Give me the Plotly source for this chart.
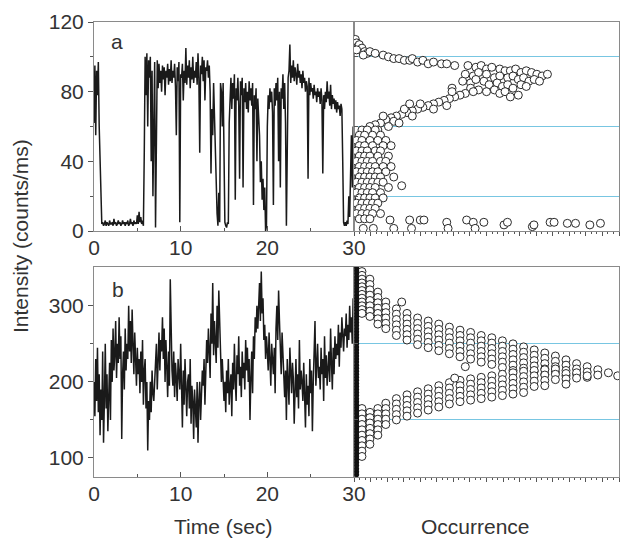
import plotly.graph_objects as go

# time traces, one value every 0.1 s from 0 to 29.9 s
trace_a = [62, 95, 55, 92, 78, 97, 60, 35, 8, 4,
           5, 3, 4, 6, 3, 5, 4, 3, 6, 4,
           4, 5, 3, 7, 4, 5, 3, 4, 6, 4,
           5, 3, 4, 6, 4, 5, 3, 5, 4, 6,
           3, 4, 7, 4, 5, 3, 6, 4, 5, 4,
           9, 4, 11, 5, 8, 4, 6, 3, 45, 100,
           78, 102, 60, 98, 88, 100, 40, 92, 20, 85,
           97, 2, 45, 98, 82, 96, 85, 92, 80, 95,
           87, 94, 78, 92, 88, 96, 84, 93, 86, 98,
           85, 92, 88, 96, 83, 55, 94, 86, 97, 5,
           90, 88, 96, 75, 92, 85, 105, 84, 95, 88,
           98, 82, 94, 87, 100, 85, 92, 88, 97, 84,
           102, 88, 45, 95, 90, 100, 86, 98, 75, 94,
           92, 98, 88, 95, 80, 33, 70, 55, 85, 62,
           40, 25, 10, 3, 22, 5, 85, 80, 60, 85,
           45, 5, 3, 2, 5, 4, 62, 80, 88, 70,
           85, 76, 90, 18, 82, 75, 88, 72, 30, 86,
           78, 88, 25, 82, 74, 85, 70, 80, 68, 86,
           75, 82, 72, 85, 15, 78, 70, 82, 40, 76,
           68, 55, 28, 40, 18, 30, 12, 25, 0, 3,
           60, 78, 70, 82, 74, 80, 68, 15, 82, 72,
           85, 75, 88, 40, 80, 25, 82, 76, 90, 70,
           85, 62, 3, 40, 88, 92, 107, 85, 95, 88,
           98, 86, 94, 90, 84, 96, 88, 92, 85, 90,
           82, 92, 85, 88, 80, 86, 83, 30, 88, 78,
           85, 80, 82, 76, 84, 78, 80, 74, 82, 77,
           80, 73, 82, 75, 33, 78, 70, 80, 74, 86,
           76, 80, 72, 84, 70, 78, 73, 76, 70, 75,
           68, 74, 70, 72, 66, 73, 70, 40, 5, 3,
           5, 3, 6, 4, 20, 8, 30, 55, 25, 60]

trace_b = [200, 155, 230, 175, 245, 160, 210, 130, 190, 150,
           240, 120, 175, 250, 165, 210, 135, 180, 225, 150,
           255, 200, 270, 215, 235, 280, 205, 250, 225, 285,
           230, 260, 125, 210, 240, 190, 270, 215, 250, 230,
           300, 240, 280, 225, 295, 250, 210, 265, 230, 195,
           245, 210, 230, 185, 240, 200, 255, 170, 215, 230,
           165, 200, 110, 175, 150, 200, 160, 215, 185, 175,
           200, 225, 250, 190, 230, 265, 215, 255, 240, 285,
           230, 270, 200, 255, 220, 180, 240, 195, 335, 260,
           215, 195, 240, 180, 225, 205, 175, 230, 200, 190,
           250, 185, 140, 215, 170, 230, 180, 155, 200, 210,
           165, 230, 145, 195, 175, 125, 190, 160, 140, 200,
           120, 175, 200, 150, 185, 215, 195, 230, 170, 210,
           255, 225, 270, 240, 205, 290, 250, 330, 235, 280,
           260, 225, 300, 245, 320, 270, 250, 200, 230, 185,
           175, 200, 160, 215, 185, 230, 170, 195, 210, 155,
           225, 190, 250, 200, 175, 235, 210, 260, 195, 220,
           180, 240, 205, 225, 190, 255, 215, 245, 200, 230,
           150, 205, 240, 185, 260, 230, 285, 265, 300, 270,
           295, 330, 280, 345, 290, 310, 255, 275, 230, 260,
           240, 215, 265, 230, 195, 250, 225, 210, 245, 185,
           270, 300, 255, 320, 280, 245, 210, 265, 230, 200,
           180, 215, 150, 230, 195, 170, 245, 210, 185, 225,
           205, 145, 195, 230, 180, 210, 165, 255, 190, 215,
           200, 175, 225, 185, 140, 210, 170, 195, 155, 230,
           185, 215, 135, 200, 240, 280, 195, 225, 250, 205,
           220, 190, 245, 210, 230, 175, 260, 205, 235, 195,
           215, 240, 200, 270, 225, 190, 245, 210, 260, 230,
           250, 235, 275, 220, 265, 245, 285, 255, 240, 270,
           260, 290, 245, 275, 255, 300, 265, 285, 250, 310]

# occurrence histogram a: (occurrence, intensity) pairs
occ_a = [0.5, 1, 1.5, 2, 2.5, 3, 1, 4, 5, 3.5,
         6, 8, 11, 13, 15, 17, 19, 21, 22, 24, 26, 28, 30, 33, 35, 38,
         43, 46, 48, 50, 52, 55, 57, 59, 61, 63, 65, 67, 69, 71, 73,
         42, 45, 47, 50, 53, 55, 58, 60, 62, 64, 66, 68, 70,
         41, 44, 46, 49, 51, 54, 56, 58, 60, 63, 65,
         44, 47, 50, 53, 55, 57, 59, 62,
         45, 42, 40, 38, 36, 34, 32, 30, 28, 26, 24, 22, 20, 18, 16, 14, 12, 10, 8, 6,
         25, 19, 15, 22, 30, 35, 11, 17, 13, 9, 21, 37, 37,
         3, 5, 8, 2, 4, 7, 10, 1, 3, 6, 9, 12, 2, 4, 7, 11, 14, 1, 3, 5, 8, 10,
         2, 4, 6, 9, 13, 1, 3, 5, 7, 10, 12, 2, 4, 6, 8, 11, 14, 1, 3, 5, 7, 9, 12,
         2, 4, 6, 8, 10, 15, 1, 3, 5, 7, 9, 11, 2, 4, 6, 8, 13, 18, 1, 3, 5, 7, 10,
         2, 4, 6, 8, 11, 1, 3, 5, 7, 9, 2, 4, 6, 8, 1, 3, 5, 7, 10, 2, 4, 6,
         3.5, 7.3, 13.6, 15, 21, 21.7, 25, 26.4, 35, 35.5, 42.5, 45, 45.7, 49,
         56.6, 57.9, 67.3, 67.9, 74, 75.5, 80.5, 83.6, 89, 93]
int_a = [110, 108, 106, 107, 104, 105, 104, 103, 102, 101,
         103, 102, 101, 100, 99, 99, 98, 98, 99, 97, 98, 96, 97, 96, 96, 95,
         95, 94, 95, 93, 94, 93, 92, 92, 93, 91, 92, 91, 90, 89, 90,
         90, 89, 91, 90, 88, 89, 88, 89, 87, 88, 86, 87, 86,
         86, 85, 87, 86, 84, 85, 83, 84, 82, 84, 83,
         82, 81, 80, 81, 79, 80, 77, 78,
         80, 79, 78, 77, 76, 75, 74, 73, 72, 71, 70, 69, 68, 67, 66, 65, 64, 62, 61, 60,
         73, 70, 63, 66, 70, 72, 66, 62, 60, 58, 73, 82, 80,
         58, 58, 58, 55, 55, 55, 55, 52, 52, 52, 52, 52, 49, 49, 49, 49, 49, 46, 46, 46, 46, 46,
         43, 43, 43, 43, 43, 40, 40, 40, 40, 40, 40, 37, 37, 37, 37, 37, 37, 34, 34, 34, 34, 34, 34,
         31, 31, 31, 31, 31, 31, 28, 28, 28, 28, 28, 28, 25, 25, 25, 25, 25, 26, 22, 22, 22, 22, 22,
         19, 19, 19, 19, 19, 16, 16, 16, 16, 16, 13, 13, 13, 13, 10, 10, 10, 10, 10, 7, 7, 7,
         1.5, 1.5, 6.3, 1.5, 6.3, 1.5, 6.3, 6.3, 5, 1.5, 6.3, 5, 1.5, 5,
         3.5, 5, 2.5, 3.5, 5, 5, 4.4, 4.4, 3.5, 4.4]

# histogram b: bins with zero occurrence, then the two arms read column by column
b_zero_int = [78, 82, 86, 90, 94, 98, 102, 106, 110, 114, 118, 122, 126, 130, 134, 138,
              142, 146, 150, 154, 158, 162, 166, 170, 174, 178, 182, 186, 190, 194, 198,
              202, 206, 210, 214, 218, 222, 226, 230, 234, 238, 242, 246, 250, 254, 258,
              262, 266, 270, 274, 278, 282, 286, 290, 294, 298, 302, 306, 310, 314, 318,
              322, 326, 330, 334, 338, 342, 346, 350]
b_upper_occ = [3, 6, 9, 12, 16, 20, 24, 28, 32, 36, 40, 44, 48, 52, 56, 60, 64, 68, 72,
               76, 80, 84, 88, 92, 96, 99.5, 18, 42]
b_upper_int = [[345, 340, 335, 330, 325, 320, 315, 310, 305, 300, 295, 290],
               [335, 328, 321, 314, 307, 300, 293, 286],
               [318, 311, 304, 297, 290, 283, 276],
               [305, 298, 291, 284, 277, 270],
               [296, 289, 282, 275, 268, 261],
               [290, 283, 276, 269, 262, 255],
               [284, 277, 270, 263, 256, 249],
               [280, 273, 266, 259, 252, 245],
               [276, 269, 262, 255, 248, 241],
               [272, 265, 258, 251, 244, 237],
               [268, 261, 254, 247, 240, 233],
               [265, 258, 251, 244, 237, 230],
               [261, 254, 247, 240, 233, 226],
               [258, 251, 244, 237, 230, 223],
               [254, 247, 240, 233, 226, 219],
               [250, 243, 236, 229, 222, 215],
               [246, 239, 232, 225, 218],
               [242, 235, 228, 221, 214],
               [238, 231, 224, 217, 210],
               [234, 227, 220, 213],
               [229, 222, 215, 208],
               [224, 217, 210],
               [220, 213, 206],
               [216, 209],
               [212],
               [208],
               [305],
               [220]]
b_lower_occ = [3, 6, 9, 12, 16, 20, 24, 28, 32, 36, 40, 44, 48, 52, 56, 60, 64, 68, 72,
               76, 80, 84, 88, 38]
b_lower_int = [[165, 158, 151, 144, 137, 130, 123, 116, 109, 102],
               [160, 153, 146, 139, 132, 125, 118],
               [165, 158, 151, 144, 137, 130],
               [172, 165, 158, 151, 144],
               [178, 171, 164, 157, 150],
               [183, 176, 169, 162, 155],
               [187, 180, 173, 166, 159],
               [191, 184, 177, 170, 163],
               [195, 188, 181, 174, 167],
               [199, 192, 185, 178, 171],
               [202, 195, 188, 181, 174],
               [204, 197, 190, 183, 176],
               [206, 199, 192, 185, 178],
               [208, 201, 194, 187, 180],
               [210, 203, 196, 189, 182],
               [212, 205, 198, 191, 184],
               [214, 207, 200, 193, 186],
               [215, 208, 201, 194],
               [216, 209, 202, 195],
               [217, 210, 203],
               [211, 204, 197],
               [212, 205],
               [208],
               [205]]

grid_a = [20, 60, 100]
grid_b = [150, 250]

occ_b, int_b = [], []
for cols, vals in [(b_upper_occ, b_upper_int), (b_lower_occ, b_lower_int)]:
    for c, vs in zip(cols, vals):
        for v in vs:
            occ_b.append(c)
            int_b.append(v)

# the page body adds an 8 px offset, so pixel positions are shifted by it
W, H, OFF = 621, 540, 8
def fx(p):
    return (p - OFF) / W
def fy(p):
    return 1 - (p - OFF) / H

xl = [fx(94), fx(354)]
xr = [fx(354), fx(619)]
ya = [fy(231), fy(22)]
yb = [fy(477), fy(267)]

font = "Liberation Sans, Arial, sans-serif"
tc = "#333333"
lc = "#8a8a8a"
blue = "#78c6e2"

fig = go.Figure()
fig.add_trace(go.Scatter(y=trace_a, x0=0, dx=0.1, mode="lines",
                         line=dict(color="#1a1a1a", width=1.5), xaxis="x", yaxis="y"))
fig.add_trace(go.Scatter(y=trace_b, x0=0, dx=0.1, mode="lines",
                         line=dict(color="#1a1a1a", width=1.5), xaxis="x3", yaxis="y3"))
mk = dict(symbol="circle", size=8, color="white", line=dict(color="#2a2a2a", width=1))
fig.add_trace(go.Scatter(x=occ_a, y=int_a, mode="markers", marker=mk, xaxis="x2", yaxis="y2"))
fig.add_trace(go.Scatter(x=occ_b, y=int_b, mode="markers", marker=mk, xaxis="x4", yaxis="y4"))
fig.add_trace(go.Scatter(x=[1.0] * len(b_zero_int), y=b_zero_int, mode="markers",
                         marker=dict(symbol="circle", size=5, color="#111111"),
                         xaxis="x4", yaxis="y4"))

tfont = dict(family=font, size=21, color=tc)
common = dict(showline=True, mirror=True, linecolor=lc, linewidth=1, zeroline=False,
              showgrid=False, automargin=False, tickfont=tfont, tickcolor="#555")

def time_axis(domain, anchor):
    return dict(domain=domain, anchor=anchor, range=[0, 30], tickvals=[0, 10, 20, 30],
                ticks="inside", ticklen=5, ticklabelstandoff=-2,
                minor=dict(tickvals=[5, 15, 25], ticks="inside", ticklen=3,
                           showgrid=False), **common)

def occ_axis(domain, anchor):
    return dict(domain=domain, anchor=anchor, range=[0, 100], dtick=6.25, tick0=0,
                ticks="outside", ticklen=4, showticklabels=False,
                minor=dict(dtick=6.25 / 3, ticks="outside", ticklen=2, showgrid=False),
                **common)

def hist_y(domain, anchor, rng, grid):
    return dict(domain=domain, anchor=anchor, range=rng, tickvals=grid, ticks="inside",
                ticklen=4, tickcolor="#555", showticklabels=False, showline=True,
                mirror=True, linecolor=lc, zeroline=False, automargin=False,
                showgrid=True, gridcolor=blue, gridwidth=1)

fig.update_layout(
    template="none",
    width=W, height=H, margin=dict(l=0, r=0, t=0, b=0, autoexpand=False),
    paper_bgcolor="white", plot_bgcolor="white", showlegend=False,
    xaxis=time_axis(xl, "y"),
    yaxis=dict(domain=ya, anchor="x", range=[0, 120], tickvals=[0, 40, 80, 120],
               ticks="outside", ticklen=5,
               minor=dict(tickvals=[20, 60, 100], ticks="outside", ticklen=3,
                          showgrid=False), **common),
    xaxis2=occ_axis(xr, "y2"),
    yaxis2=hist_y(ya, "x2", [0, 120], grid_a),
    xaxis3=time_axis(xl, "y3"),
    yaxis3=dict(domain=yb, anchor="x3", range=[75, 351], tickvals=[100, 200, 300],
                ticks="outside", ticklen=5,
                minor=dict(tickvals=[150, 250], ticks="outside", ticklen=3,
                           showgrid=False), **common),
    xaxis4=occ_axis(xr, "y4"),
    yaxis4=hist_y(yb, "x4", [75, 351], grid_b),
)

afont = dict(family=font, size=21, color=tc)
def label(text, x, y, angle=0):
    fig.add_annotation(text=text, textangle=angle, x=fx(x), y=fy(y), xref="paper",
                       yref="paper", xanchor="center", yanchor="middle",
                       showarrow=False, font=afont)

label("Intensity (counts/ms)", 20, 236, -90)
label("Time (sec)", 223, 526)
label("Occurrence", 475, 526)
label("a", 117, 41)
label("b", 118, 289)

fig.write_html("out.html")
